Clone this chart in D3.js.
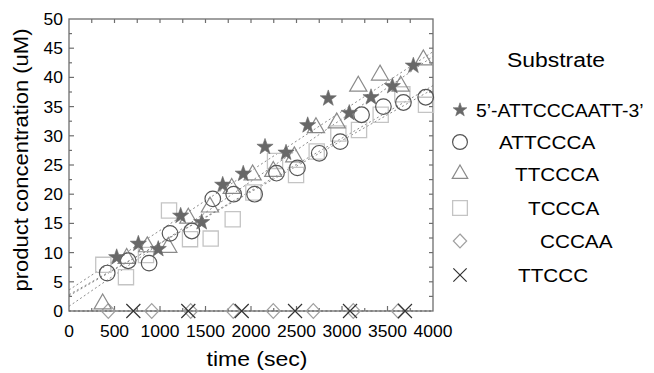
<!DOCTYPE html>
<html><head><meta charset="utf-8">
<script src="https://cdn.jsdelivr.net/npm/d3@7"></script>
<style>
body{margin:0;background:#fff}
svg{display:block}
text{font-family:"Liberation Sans",Arial,Helvetica,sans-serif;fill:#000}
</style>
</head><body>
<svg id="chart" width="654" height="373"></svg>
<script>
// ---------- data ----------
const seriesNames = ["5\u2019-ATTCCCAATT-3\u2019", "ATTCCCA", "TTCCCA", "TCCCA", "CCCAA", "TTCCC"];
const seriesShapes = ["star", "circle", "triangle", "square", "diamond", "cross"];

const starTime = [524, 762, 981, 1227, 1458, 1689, 1915, 2154, 2385, 2623, 2849, 3080, 3319, 3553, 3784];
const starConc = [9.2, 11.5, 10.6, 16.3, 15.2, 21.6, 23.5, 28.1, 27.1, 31.8, 36.4, 33.9, 36.6, 38.5, 42.0];

const circleTime = [420, 650, 880, 1110, 1350, 1580, 1810, 2040, 2280, 2510, 2750, 2980, 3215, 3455, 3675, 3920];
const circleConc = [6.5, 8.6, 8.2, 13.3, 13.7, 19.2, 20.0, 20.0, 23.6, 24.5, 27.0, 29.0, 33.6, 35.0, 35.7, 36.6];

const triangleTime = [370, 634, 860, 1091, 1311, 1549, 1788, 2018, 2245, 2476, 2714, 2942, 3179, 3418, 3645, 3894];
const triangleConc = [1.2, 9.0, 11.0, 10.9, 15.9, 17.8, 21.0, 23.3, 23.9, 26.4, 31.4, 32.2, 38.5, 40.4, 38.5, 43.0];

const squareTime = [377, 626, 846, 1099, 1330, 1557, 1799, 2026, 2264, 2495, 2722, 2960, 3187, 3425, 3663, 3923];
const squareConc = [7.9, 5.8, 9.6, 17.2, 12.3, 12.4, 15.7, 20.3, 25.7, 23.3, 27.3, 30.4, 31.0, 33.6, 37.1, 35.3];

const diamondTime = [432, 909, 1337, 1805, 2245, 2685, 3124, 3619];
const diamondConc = [0, 0, 0, 0, 0, 0, 0, 0];

const crossTime = [707, 1311, 1898, 2484, 3088, 3692];
const crossConc = [0, 0, 0, 0, 0, 0];

// dotted linear fits (intercept uM, slope uM/sec)
const fitIntercept = [3.6, 2.6, 0.8, 2.8, 0, 0];
const fitSlope = [0.0102, 0.0090, 0.0107, 0.0088, 0, 0];

const xTicks = [0, 500, 1000, 1500, 2000, 2500, 3000, 3500, 4000];
const yTicks = [0, 5, 10, 15, 20, 25, 30, 35, 40, 45, 50];

const xTitle = "time (sec)";
const yTitle = "product concentration (uM)";
const legendTitle = "Substrate";

// ---------- layout / style ----------
const L = 69, R = 433, T = 19, B = 311;
const svg = d3.select("#chart");
const x = d3.scaleLinear().domain([0, 4000]).range([L, R]);
const y = d3.scaleLinear().domain([0, 50]).range([B, T]);

const style = {
  star:     {fill: "#686868", stroke: "#686868", sw: 0.6, s: 8.5},
  circle:   {fill: "none", stroke: "#555", sw: 1.2, s: 7.8},
  triangle: {fill: "none", stroke: "#8a8a8a", sw: 1.2, s: 8.6},
  square:   {fill: "none", stroke: "#c4c4c4", sw: 1.3, s: 7.6},
  diamond:  {fill: "none", stroke: "#a0a0a0", sw: 1.2, s: 7.0},
  cross:    {fill: "none", stroke: "#333", sw: 1.2, s: 7.0}
};

function shapePath(type, s) {
  const p = d3.path();
  if (type === "star") {
    const ri = s * 0.4;
    for (let i = 0; i < 10; i++) {
      const a = -Math.PI / 2 + i * Math.PI / 5;
      const r = i % 2 ? ri : s;
      const px = r * Math.cos(a), py = r * Math.sin(a);
      i ? p.lineTo(px, py) : p.moveTo(px, py);
    }
    p.closePath();
  } else if (type === "circle") {
    p.moveTo(s, 0); p.arc(0, 0, s, 0, 2 * Math.PI);
  } else if (type === "triangle") {
    const h = s * Math.sqrt(3);
    p.moveTo(0, -h * 2 / 3); p.lineTo(s, h / 3); p.lineTo(-s, h / 3); p.closePath();
  } else if (type === "square") {
    p.rect(-s, -s, 2 * s, 2 * s);
  } else if (type === "diamond") {
    p.moveTo(0, -s * 1.05); p.lineTo(s, 0); p.lineTo(0, s * 1.05); p.lineTo(-s, 0); p.closePath();
  } else if (type === "cross") {
    p.moveTo(-s, -s); p.lineTo(s, s); p.moveTo(s, -s); p.lineTo(-s, s);
  }
  return p.toString();
}

function addText(parent, tx, ty, str, size, anchor, sx, rot, len) {
  const g = parent.append("g").attr("transform",
    `translate(${tx},${ty})` + (rot ? ` rotate(${rot})` : "") + ` scale(${sx},1)`);
  const t = g.append("text").attr("text-anchor", anchor).attr("font-size", size).text(str);
  if (len) t.attr("textLength", len).attr("lengthAdjust", "spacingAndGlyphs");
  return t;
}

// ---------- fit lines ----------
const fitG = svg.append("g");
fitIntercept.forEach((b, i) => {
  const m = fitSlope[i];
  fitG.append("line")
    .attr("x1", x(0)).attr("y1", y(b))
    .attr("x2", x(4000)).attr("y2", y(Math.min(50, b + m * 4000)))
    .attr("stroke", "#8c8c8c").attr("stroke-width", 1)
    .attr("stroke-dasharray", "2,2.5");
});

// ---------- frame & ticks ----------
const axisColor = "#6e6e6e";
svg.append("rect").attr("x", L).attr("y", T).attr("width", R - L).attr("height", B - T)
  .attr("fill", "none").attr("stroke", axisColor).attr("stroke-width", 1.3);

const xMinor = d3.range(250, 4000, 250);
const yMinor = d3.range(2.5, 50, 2.5);
const tg = svg.append("g").attr("stroke", axisColor).attr("stroke-width", 1.2);
xMinor.forEach(v => {
  const major = v % 500 === 0;
  tg.append("line").attr("x1", x(v)).attr("x2", x(v)).attr("y1", B).attr("y2", B - (major ? 5 : 3));
  tg.append("line").attr("x1", x(v)).attr("x2", x(v)).attr("y1", T).attr("y2", T + 4);
});
yMinor.forEach(v => {
  const major = v % 5 === 0;
  tg.append("line").attr("y1", y(v)).attr("y2", y(v)).attr("x1", L).attr("x2", L + (major ? 5 : 3));
  tg.append("line").attr("y1", y(v)).attr("y2", y(v)).attr("x1", R).attr("x2", R - 4);
});

// tick labels
const labG = svg.append("g");
xTicks.forEach(v => addText(labG, x(v), 337, String(v), 16.5, "middle", 1.06));
yTicks.forEach(v => addText(labG, 63, y(v) + 6, String(v), 16.5, "end", 1.06));

// axis titles
addText(svg, 257, 366, xTitle, 21, "middle", 1, 0, 101);
addText(svg, 28, 160, yTitle, 21, "middle", 1, -90, 263);

// ---------- markers ----------
const allTime = [starTime, circleTime, triangleTime, squareTime, diamondTime, crossTime];
const allConc = [starConc, circleConc, triangleConc, squareConc, diamondConc, crossConc];
const drawOrder = [3, 4, 2, 1, 0, 5];
drawOrder.forEach(i => {
  const sh = seriesShapes[i], st = style[sh];
  const pts = allTime[i].map((t, k) => [t, allConc[i][k]]);
  svg.append("g").selectAll("path").data(pts).join("path")
    .attr("transform", d => `translate(${x(d[0])},${y(d[1])})`)
    .attr("d", shapePath(sh, st.s))
    .attr("fill", st.fill).attr("stroke", st.stroke).attr("stroke-width", st.sw);
});

// ---------- legend ----------
const lg = svg.append("g");
addText(lg, 556, 67, legendTitle, 20, "middle", 1, 0, 98);
const legY = [110, 142, 174, 208, 241, 275];
const legTextX = [476, 499, 515, 528, 540, 518];
const legTextScale = [1.05, 1.12, 1.12, 1.12, 1.12, 1.12];
const legScale = [0.85, 0.95, 0.9, 0.97, 0.95, 0.95];
seriesNames.forEach((n, i) => {
  const sh = seriesShapes[i], st = style[sh];
  lg.append("path").attr("transform", `translate(460,${legY[i]})`)
    .attr("d", shapePath(sh, st.s * legScale[i]))
    .attr("fill", st.fill).attr("stroke", st.stroke).attr("stroke-width", st.sw);
  addText(lg, legTextX[i], legY[i] + 6.8, n, 18.5, "start", legTextScale[i]);
});
</script>
</body></html>
